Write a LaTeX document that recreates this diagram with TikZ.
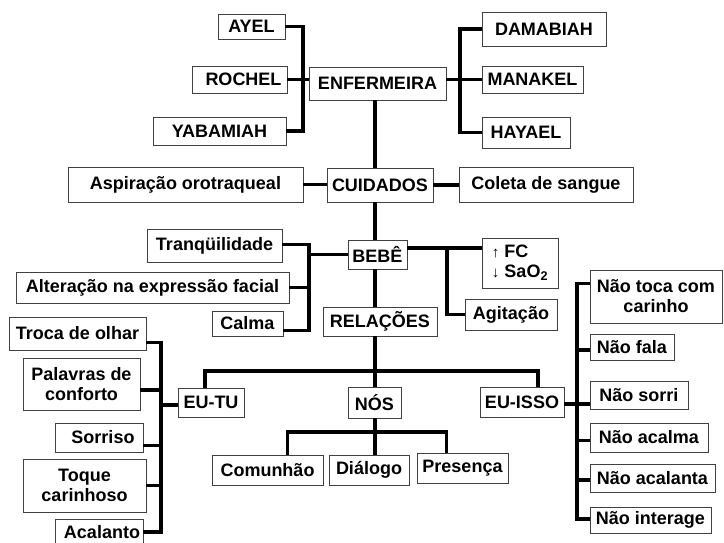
\documentclass[tikz,border=0pt]{standalone}
\usepackage{fontspec}
\setmainfont{Liberation Sans}
\usetikzlibrary{calc}

\begin{document}
\begin{tikzpicture}[x=1pt, y=-1pt, font=\fontsize{18}{20}\selectfont\bfseries,
  box/.style={draw=black!75, line width=0.8pt, fill=white, inner sep=0pt},
  link/.style={line width=3.6pt}]
\useasboundingbox (0,0) rectangle (724,542);
\newcommand{\bx}[7][]{% options, name, left, top, right, bottom, text
  \node[box, #1, minimum width={(#5-#3)*1pt}, minimum height={(#6-#4)*1pt}] (#2) at ({(#3+#5)/2},{(#4+#6)/2}) {#7};}
\newcommand{\arr}[1]{{\fontsize{15}{20}\selectfont#1}\hspace{5pt}}
% the nurse and her six names
\bx{ayel}{218}{14}{285}{39}{AYEL}
\bx{rochel}{192}{66}{287}{93}{\hspace{8pt}ROCHEL}
\bx{yabamiah}{153}{117}{286}{145}{YABAMIAH\hspace{12pt}}
\bx{enfermeira}{309}{67}{446}{100}{ENFERMEIRA}
\bx{damabiah}{482}{12}{606}{46}{DAMABIAH}
\bx{manakel}{482}{66}{583}{93}{MANAKEL}
\bx{hayael}{482}{117}{570}{148}{HAYAEL}
% care and the baby
\bx{aspiracao}{68}{167}{303}{202}{Aspiração orotraqueal}
\bx{cuidados}{327}{168}{433}{202}{CUIDADOS}
\bx{coleta}{459}{167}{633}{202}{Coleta de sangue}
\bx{tranq}{147}{229}{282}{262}{Tranqüilidade}
\bx{alteracao}{16}{272}{289}{303}{Alteração na expressão facial}
\bx{calma}{212}{311}{283}{336}{Calma}
\bx{bebe}{348}{240}{407}{269}{BEBÊ}
\bx[align=left]{fc}{482}{238}{558}{288}{\arr{↑}FC\\\arr{↓}SaO\textsubscript{2}}
\bx{agitacao}{465}{299}{557}{330}{Agitação}
% relations
\bx{relacoes}{323}{307}{437}{336}{RELAÇÕES}
\bx{eutu}{178}{388}{244}{417}{EU-TU}
\bx{nos}{348}{387}{401}{418}{NÓS}
\bx{euisso}{480}{387}{564}{417}{EU-ISSO}
\bx{comunhao}{212}{455}{323}{485}{Comunhão}
\bx{dialogo}{329}{455}{409}{485}{Diálogo}
\bx{presenca}{417}{453}{508}{483}{Presença}
\bx{troca}{9}{317}{146}{350}{Troca de olhar}
\bx[align=center]{palavras}{23}{358}{140}{410}{Palavras de\\conforto}
\bx{sorriso}{55}{423}{143}{452}{\hspace{8pt}Sorriso}
\bx[align=center]{toque}{23}{459}{146}{512}{Toque\\carinhoso}
\bx{acalanto}{55}{519}{143}{545}{\hspace{6pt}Acalanto}
\bx[align=center]{naotoca}{590}{270}{722}{323}{Não toca com\\carinho}
\bx{naofala}{590}{334}{674}{360}{Não fala}
\bx{naosorri}{590}{381}{688}{409}{Não sorri}
\bx{naoacalma}{590}{423}{708}{452}{Não acalma}
\bx{naoacalanta}{590}{464}{715}{492}{Não acalanta}
\bx{naointerage}{590}{507}{711}{533}{Não interage}
% spines and bars
\coordinate (spine) at (375,0);
\coordinate (enfL) at (303,79);
\coordinate (enfR) at (460,79);
\coordinate (bebeL) at (309,255);
\coordinate (bebeR) at (447,248);
\coordinate (relbar) at (375,371);
\coordinate (nosbar) at (375,432);
\coordinate (tuL) at (161,405);
\coordinate (issoR) at (577,404);
\draw[link] (ayel.east) -| (enfL) |- (yabamiah.east);
\draw[link] (rochel.east) -- (enfermeira.west |- rochel.east);
\draw[link] (damabiah.west) -| (enfR) |- (hayael.west);
\draw[link] (enfermeira.east |- manakel.west) -- (manakel.west);
\draw[link] (spine |- enfermeira.south) -- (spine |- cuidados.north);
\draw[link] (spine |- cuidados.south) -- (spine |- bebe.north);
\draw[link] (spine |- bebe.south) -- (spine |- relacoes.north);
\draw[link] (spine |- relacoes.south) -- (spine |- nos.north);
\draw[link] (spine |- nos.south) -- (spine |- dialogo.north);
\draw[link] (aspiracao.east) -- (cuidados.west |- aspiracao.east);
\draw[link] (cuidados.east) -- (coleta.west |- cuidados.east);
\draw[link] ([yshift=1pt]tranq.east) -| (bebeL) |- ([yshift=-7pt]calma.east);
\draw[link] (alteracao.east) -- (bebeL |- alteracao.east);
\draw[link] (bebe.west) -- (bebeL |- bebe.west);
\draw[link] (bebe.east |- bebeR) -- (fc.west |- bebeR);
\draw[link] (bebeR) |- (agitacao.west);
\draw[link] ([xshift=-6pt]eutu.north) |- (relbar) -| ([xshift=16pt]euisso.north);
\draw[link] ([xshift=20pt]comunhao.north) |- (nosbar) -| ([xshift=-16pt]presenca.north);
\draw[link] ([yshift=-9pt]troca.east) -| (tuL) |- ([yshift=0pt]acalanto.east);
\foreach \nd/\dy in {palavras/-6, sorriso/-8, toque/0}
  \draw[link] ([yshift=\dy pt]\nd.east) -- ([yshift=\dy pt]\nd.east -| tuL);
\draw[link] (eutu.west |- tuL) -- (tuL);
\draw[link] ([yshift=13pt]naotoca.west) -| (issoR) |- ([yshift=1pt]naointerage.west);
\foreach \nd/\dy in {naofala/-3, naoacalma/-3, naoacalanta/-2}
  \draw[link] ([yshift=\dy pt]\nd.west) -- ([yshift=\dy pt]\nd.west -| issoR);
\draw[link] (euisso.east |- issoR) -- (naosorri.west |- issoR);
\end{tikzpicture}
\end{document}
